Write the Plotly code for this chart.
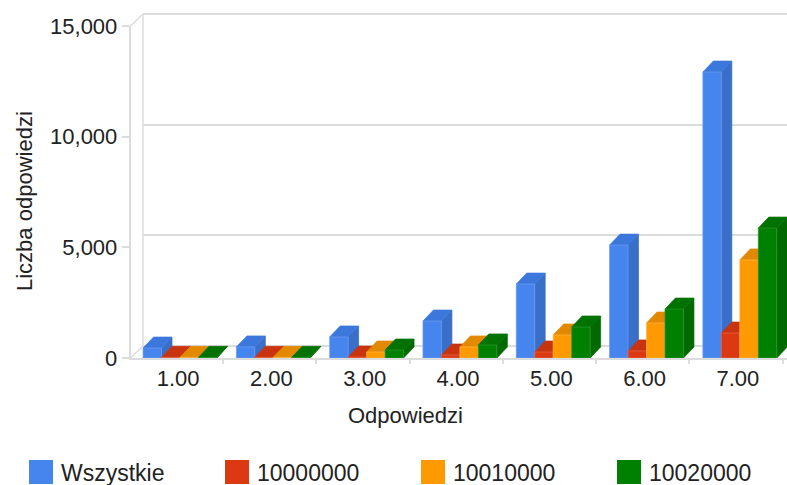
import plotly.graph_objects as go

categories = [1, 2, 3, 4, 5, 6, 7]
tick_labels = ["1.00", "2.00", "3.00", "4.00", "5.00", "6.00", "7.00"]
wszystkie = [450, 500, 950, 1670, 3340, 5100, 12920]
s10000000 = [30, 30, 40, 135, 270, 320, 1130]
s10010000 = [30, 30, 270, 500, 1040, 1580, 4430]
s10020000 = [30, 30, 360, 590, 1400, 2210, 5870]

series = [
    ("Wszystkie", wszystkie, "#4684ee", "#3a6fc9", "#3c78dc", "#6d9ff3"),
    ("10000000", s10000000, "#dc3912", "#b82f0f", "#c8340f", "#e8674a"),
    ("10010000", s10010000, "#ff9900", "#d98200", "#e38900", "#ffb84d"),
    ("10020000", s10020000, "#008000", "#006a00", "#007200", "#2e9a2e"),
]

W, H = 787, 485
FRONT_LEFT, BACK_LEFT = 130.5, 143
FRONT_BOTTOM, FRONT_TOP = 358, 26
BACK_BOTTOM, BACK_TOP = 346, 14
BAND = 93.3
BAR_W = 0.198
DEPTH_X = 10.5 / BAND
DEPTH_Y = 11 / (FRONT_BOTTOM - FRONT_TOP) * 15000
X0 = 1 - (180 - FRONT_LEFT) / BAND
X1 = X0 + (W - FRONT_LEFT) / BAND
PAD = 150
PAD_PX = PAD / 15000 * (FRONT_BOTTOM - FRONT_TOP)


def polygons(faces):
    xs, ys = [], []
    for face in faces:
        xs += [p[0] for p in face] + [face[0][0], None]
        ys += [p[1] for p in face] + [face[0][1], None]
    return xs, ys


fig = go.Figure()

# back wall axes carry the gridlines, and sit under the bars
fig.add_trace(go.Scatter(x=[0], y=[0], xaxis="x", yaxis="y", mode="markers",
                         marker=dict(opacity=0), showlegend=False, hoverinfo="skip"))

for i, (name, values, front, side, top, edge) in enumerate(series):
    lefts = [c + (i - 2) * BAR_W for c in categories]
    side_faces = [[(l + BAR_W, 0), (l + BAR_W + DEPTH_X, DEPTH_Y),
                   (l + BAR_W + DEPTH_X, v + DEPTH_Y), (l + BAR_W, v)]
                  for l, v in zip(lefts, values)]
    top_faces = [[(l, v), (l + DEPTH_X, v + DEPTH_Y),
                  (l + BAR_W + DEPTH_X, v + DEPTH_Y), (l + BAR_W, v)]
                 for l, v in zip(lefts, values)]
    front_faces = [[(l, 0), (l, v), (l + BAR_W, v), (l + BAR_W, 0)]
                   for l, v in zip(lefts, values)]
    for faces, colour, line in ((side_faces, side, side), (top_faces, top, top),
                                (front_faces, front, edge)):
        xs, ys = polygons(faces)
        fig.add_trace(go.Scatter(
            x=xs, y=ys, xaxis="x2", yaxis="y2", mode="lines", fill="toself", fillcolor=colour,
            line=dict(color=line, width=0.7), name=name,
            showlegend=False, hoverinfo="skip", cliponaxis=False))

GRID = "#dcdcdc"
TEXT = "#222222"
FONT = "Liberation Sans, Arial, sans-serif"


def px(x):
    return x / W


def py(y):
    return 1 - y / H


def wall_line(x0, y0, x1, y1):
    return dict(type="line", xref="paper", yref="paper", x0=px(x0), y0=py(y0),
                x1=px(x1), y1=py(y1), line=dict(color=GRID, width=1.5), layer="below")


shapes = [
    wall_line(FRONT_LEFT, FRONT_TOP, BACK_LEFT, BACK_TOP),
    wall_line(FRONT_LEFT, FRONT_BOTTOM, BACK_LEFT, BACK_BOTTOM),
    wall_line(BACK_LEFT, BACK_TOP, BACK_LEFT, BACK_BOTTOM),
]
annotations = [
    dict(text="Odpowiedzi", xref="paper", yref="paper", x=px(405), y=py(415),
         xanchor="center", yanchor="middle", showarrow=False,
         font=dict(size=22, color=TEXT, family=FONT)),
    dict(text="Liczba odpowiedzi", xref="paper", yref="paper", x=px(24), y=py(201),
         xanchor="center", yanchor="middle", textangle=-90, showarrow=False,
         font=dict(size=22, color=TEXT, family=FONT)),
]
for (name, _, colour, _, _, _), lx in zip(series, (29, 225, 421, 617)):
    shapes.append(dict(type="rect", xref="paper", yref="paper", x0=px(lx), x1=px(lx + 24),
                       y0=py(484), y1=py(460), fillcolor=colour, line=dict(width=0)))
    annotations.append(dict(text=name, xref="paper", yref="paper", x=px(lx + 30), y=py(473),
                            xanchor="left", yanchor="middle", showarrow=False,
                            font=dict(size=23, color=TEXT, family=FONT)))

fig.update_layout(
    width=W, height=H, margin=dict(l=0, r=0, t=0, b=0, autoexpand=False),
    paper_bgcolor="white", plot_bgcolor="rgba(0,0,0,0)", showlegend=False,
    font=dict(family=FONT, color=TEXT),
    shapes=shapes, annotations=annotations,
    xaxis=dict(domain=[px(BACK_LEFT), 1], range=[0, 1], visible=False, anchor="y"),
    yaxis=dict(domain=[py(BACK_BOTTOM + PAD_PX), py(BACK_TOP - PAD_PX)],
               range=[-PAD, 15000 + PAD], anchor="x",
               showgrid=True, gridcolor=GRID, gridwidth=1.5, zeroline=False,
               tickmode="array", tickvals=[0, 5000, 10000, 15000], showticklabels=False,
               ticks="", showline=False),
    xaxis2=dict(domain=[px(FRONT_LEFT), 1], range=[X0, X1], showgrid=False, zeroline=False,
                anchor="y2", tickmode="array", tickvals=[c - 0.02 for c in categories],
                ticktext=tick_labels, ticks="", tickfont=dict(size=22, color=TEXT),
                showline=True, linecolor=GRID, linewidth=2,
                minor=dict(tickmode="array", tickvals=[c + 0.46 for c in categories],
                           ticks="outside", ticklen=4, tickcolor=GRID, tickwidth=1.5,
                           showgrid=False)),
    yaxis2=dict(domain=[py(FRONT_BOTTOM), py(FRONT_TOP)], range=[0, 15000], showgrid=False,
                anchor="x2", zeroline=False, tickmode="array", tickvals=[0, 5000, 10000, 15000],
                ticktext=["0", "5,000", "10,000", "15,000"], tickfont=dict(size=22, color=TEXT),
                ticks="outside", ticklen=7, tickcolor=GRID, tickwidth=1.5,
                showline=True, linecolor=GRID, linewidth=1.5),
)

fig.write_html("out.html", config=dict(displayModeBar=False),
               post_script="document.body.style.margin='0';")
